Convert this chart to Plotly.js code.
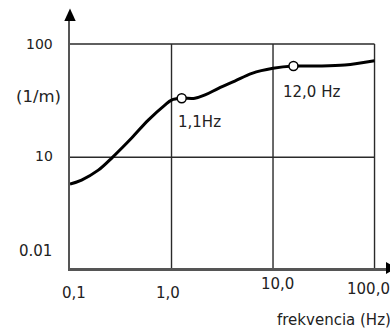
<!DOCTYPE html>
<html>
<head>
<meta charset="utf-8">
<script src="https://cdn.plot.ly/plotly-3.0.1.min.js"></script>
<style>
html,body{margin:0;padding:0;background:#fff;}
#chart{width:390px;height:331px;}
</style>
</head>
<body>
<div id="chart"></div>
<script>
// ---- data ----
const freqHz   = [0.1, 0.13, 0.19, 0.265, 0.405, 0.59, 0.86, 1.0, 1.26, 1.7, 2.14, 2.9, 4.2, 6.2, 10, 15.9, 28, 51, 100];
const valuePerM = [5.8, 6.3, 7.7, 10.1, 14.8, 21.3, 28.9, 32, 33.2, 33.2, 35.5, 40.6, 47.1, 55.1, 61, 63.9, 63.9, 65.3, 71.2];
const markFreq  = [1.26, 15.9];
const markValue = [33.2, 63.9];
const markLabels = ["1,1Hz", "12,0 Hz"];
const gridX = [1, 10, 100];
const gridY = [10, 100];
const xTickVals = [0.1, 1, 10, 100];
const xTickText = ["0,1", "1,0", "10,0", "100,0"];
const yTickVals = [100, 10];
const yTickText = ["100", "10"];
const yUnit = "(1/m)";
const yLowLabel = "0.01";
const xTitle = "frekvencia (Hz)";

// ---- axes ----
const xRange = [-1, 2.113];
const yRange = [0.023, 2.2118];
const yBottom = Math.pow(10, yRange[0]);
const xLeft = Math.pow(10, xRange[0]);

const fam = "DejaVu Sans, Verdana, sans-serif";
const font = {family: fam, size: 15, color: "#222"};
const yFont = {family: fam, size: 14, color: "#222"};
const unitFont = {family: fam, size: 16.5, color: "#222"};
const gridStyle = {color: "#2a2a2a", width: 1.4};

const traces = [];
gridY.forEach(g => traces.push({x: [xLeft, gridX[gridX.length - 1]], y: [g, g], mode: "lines", line: gridStyle, hoverinfo: "skip"}));
gridX.forEach(g => traces.push({x: [g, g], y: [yBottom, gridY[gridY.length - 1]], mode: "lines", line: gridStyle, hoverinfo: "skip"}));
traces.push({x: freqHz, y: valuePerM, mode: "lines", line: {color: "#000", width: 3, shape: "spline", smoothing: 1}});
traces.push({x: markFreq, y: markValue, mode: "markers", marker: {size: 9, color: "#fff", line: {color: "#000", width: 1.5}}});
traces.push({x: [xLeft], y: [yBottom], mode: "markers", cliponaxis: false, marker: {size: 9, color: "#fff", line: {color: "#555", width: 1.5}}});

// label placement offsets (pixels)
const xTickShift = [3.5, -4, 4, -6.5];
const xTickY = [-24.5, -25, -16, -21];
const markShiftX = [-6, -12];
const markShiftY = [-23.5, -25.5];

const annotations = [];
xTickVals.forEach((v, i) => annotations.push({
  xref: "x", yref: "paper", x: Math.log10(v), y: 0, xshift: xTickShift[i], yshift: xTickY[i],
  text: xTickText[i], showarrow: false, font: font, xanchor: "center", yanchor: "middle"
}));
yTickVals.forEach((v, i) => annotations.push({
  xref: "paper", yref: "y", x: 0, y: Math.log10(v), xshift: -15, yshift: i === 1 ? 1 : 0,
  text: yTickText[i], showarrow: false, font: yFont, xanchor: "right", yanchor: "middle"
}));
annotations.push({xref: "paper", yref: "paper", x: 0, y: (268 - 97) / 248, xshift: -7, text: yUnit, showarrow: false, font: unitFont, xanchor: "right", yanchor: "middle"});
annotations.push({xref: "paper", yref: "y", x: 0, y: yRange[0], xshift: -16, yshift: 17, text: yLowLabel, showarrow: false, font: font, xanchor: "right", yanchor: "middle"});
annotations.push({xref: "paper", yref: "paper", x: 1, y: 0, xshift: 7, yshift: -52, text: xTitle, showarrow: false, font: font, xanchor: "right", yanchor: "middle"});
markLabels.forEach((t, i) => annotations.push({
  xref: "x", yref: "y", x: Math.log10(markFreq[i]), y: Math.log10(markValue[i]), xshift: markShiftX[i], yshift: markShiftY[i],
  text: t, showarrow: false, font: font, xanchor: "left", yanchor: "middle"
}));

const layout = {
  width: 390, height: 331,
  margin: {l: 70, r: 4, t: 20, b: 63},
  paper_bgcolor: "#fff", plot_bgcolor: "#fff",
  showlegend: false,
  font: font,
  xaxis: {type: "log", range: xRange, showgrid: false, zeroline: false, showticklabels: false, ticks: "",
          showline: true, linecolor: "#555", linewidth: 2.5, fixedrange: true},
  yaxis: {type: "log", range: yRange, showgrid: false, zeroline: false, showticklabels: false, ticks: "",
          showline: true, linecolor: "#555", linewidth: 2.5, fixedrange: true},
  annotations: annotations,
  shapes: [
    {type: "path", xref: "paper", yref: "paper", path: "M 0 1.046 L -0.018 0.996 L 0.018 0.996 Z", fillcolor: "#000", line: {width: 0}},
    {type: "path", xref: "paper", yref: "paper", path: "M 1.035 0 L 1.0 0.024 L 1.0 -0.024 Z", fillcolor: "#000", line: {width: 0}}
  ]
};

Plotly.newPlot("chart", traces, layout, {staticPlot: true, displayModeBar: false});
</script>
</body>
</html>
